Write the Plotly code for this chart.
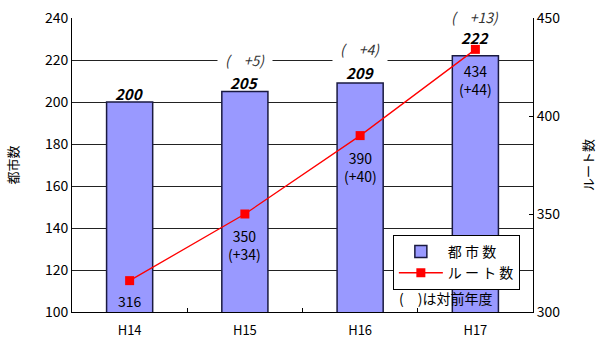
import plotly.graph_objects as go

years = ["H14", "H15", "H16", "H17"]
cities = [200, 205, 209, 222]
routes = [316, 350, 390, 434]

FONT = "Noto Sans CJK JP"
label_shift = [9, 9, 11, 18]
inc_shift = [0, 32, 34, 39]

fig = go.Figure()
fig.add_trace(go.Bar(
    x=years, y=cities, name="都 市 数", width=0.4,
    marker=dict(color="#9999FF", line=dict(color="#1a1a40", width=1.5)),
    yaxis="y",
))
fig.add_trace(go.Scatter(
    x=years, y=routes, name="ル ー ト 数", mode="lines+markers",
    line=dict(color="#FF0000", width=1.3),
    marker=dict(symbol="square", size=9, color="#FF0000"),
    yaxis="y2",
))

ann = []
for i, (yr, c) in enumerate(zip(years, cities)):
    if i > 0:
        ann.append(dict(x=yr, y=c, xref="x", yref="y", text="<i>(　+%d)</i>" % (c - cities[i - 1]),
                        showarrow=False, yshift=inc_shift[i], bgcolor="white", borderpad=7,
                        font=dict(size=14, color="#333333", family=FONT)))
for i, (yr, c) in enumerate(zip(years, cities)):
    ann.append(dict(x=yr, y=c, xref="x", yref="y", text="<b><i>%d</i></b>" % c,
                    showarrow=False, yshift=label_shift[i],
                    font=dict(size=15, color="black", family=FONT)))
for i, (yr, r) in enumerate(zip(years, routes)):
    if i == 0:
        txt = "%d" % r
        shift = -20
    else:
        txt = "%d<br>(+%d)" % (r, r - routes[i - 1])
        shift = -31
    ann.append(dict(x=yr, y=r, xref="x", yref="y2", text=txt, showarrow=False, yshift=shift,
                    font=dict(size=14, color="black", family=FONT)))
ann.append(dict(x=0.705, y=0.048, xref="paper", yref="paper", xanchor="left", yanchor="middle",
                text="(　)は対前年度", showarrow=False, font=dict(size=14, color="black", family=FONT)))

fig.update_layout(
    width=597, height=340,
    margin=dict(l=72, r=64, t=18, b=28, autoexpand=False),
    paper_bgcolor="white", plot_bgcolor="white",
    font=dict(family=FONT, size=12, color="black"),
    showlegend=True,
    legend=dict(x=0.696, y=0.262, xanchor="left", yanchor="top",
                bordercolor="black", borderwidth=1, bgcolor="white", itemwidth=44,
                font=dict(size=14, family=FONT), tracegroupgap=2),
    xaxis=dict(showline=True, linecolor="black", linewidth=1, ticks="inside", ticklen=4,
               tickson="boundaries", tickcolor="black", showgrid=False, automargin=False,
               ticklabelstandoff=6, tickfont=dict(size=13)),
    yaxis=dict(range=[100, 240], dtick=20, showline=True, linecolor="black", linewidth=1,
               showgrid=True, gridcolor="#222222", gridwidth=1, ticks="", automargin=False,
               title=dict(text="都市数", font=dict(size=13), standoff=23),
               tickfont=dict(size=14), zeroline=False),
    yaxis2=dict(range=[300, 450], dtick=50, overlaying="y", side="right", showline=True,
                linecolor="black", linewidth=1, showgrid=False, ticks="inside", ticklen=4,
                tickcolor="black", automargin=False,
                title=dict(text="ルート数", font=dict(size=13), standoff=29),
                tickfont=dict(size=14), zeroline=False),
    annotations=ann,
    bargap=0.6,
)

fig.write_html("out.html")
